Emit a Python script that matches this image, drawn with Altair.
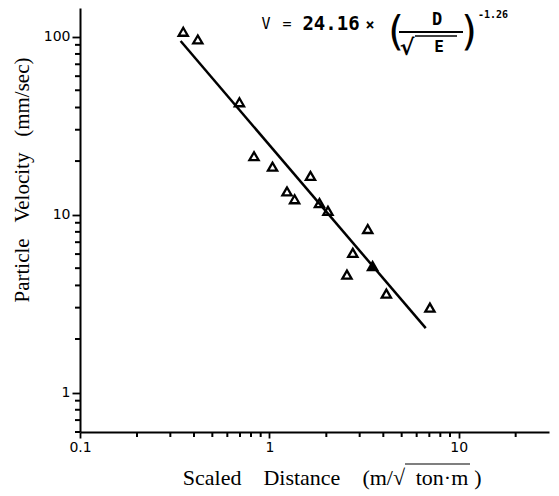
import altair as alt
import pandas as pd

# Measured data (scaled distance, particle velocity)
dist = [0.351, 0.419, 0.695, 0.83, 1.04, 1.65, 1.24, 1.36, 1.84, 2.04,
        3.31, 2.76, 3.51, 2.57, 4.15, 7.05]
vel = [106.6, 96.5, 42.8, 21.3, 18.6, 16.5, 13.5, 12.2, 11.6, 10.5,
       8.3, 6.1, 5.14, 4.6, 3.6, 3.0]
filled_flag = [False] * 12 + [True] + [False] * 3

# Regression line end points
line_x = [0.34, 6.7]
line_y = [94.6, 2.3]

x_major = [0.1, 1, 10]
y_major = [1, 10, 100]
x_minor = [0.2, 0.3, 0.4, 0.5, 0.6, 0.7, 0.8, 0.9, 2, 3, 4, 5, 6, 7, 8, 9, 20]
y_minor = [0.6, 0.7, 0.8, 0.9, 2, 3, 4, 5, 6, 7, 8, 9, 20, 30, 40, 50, 60, 70, 80, 90]

pts = pd.DataFrame({"d": dist, "v": vel, "f": filled_flag})
ln = pd.DataFrame({"d": line_x, "v": line_y})
xm = pd.DataFrame({"d": x_minor})
ym = pd.DataFrame({"v": y_minor})

xscale = alt.Scale(type="log", domain=[0.1, 30], nice=False)
yscale = alt.Scale(type="log", domain=[0.6, 145], nice=False)

common = dict(format="~g", title=None, grid=False, labelFont="DejaVu Sans",
              labelFontSize=14, labelColor="black", domainColor="black",
              domainWidth=2, tickColor="black", tickWidth=1.8,
              labelFlush=False, labelOverlap=False)
xaxis = alt.Axis(values=x_major, tickSize=6, labelPadding=2, **common)
yaxis = alt.Axis(values=y_major, tickSize=8, labelPadding=2, **common)

X = alt.X("d:Q", scale=xscale, axis=xaxis)
Y = alt.Y("v:Q", scale=yscale, axis=yaxis)

line = alt.Chart(ln).mark_line(color="black", strokeWidth=2.5).encode(x=X, y=Y)

base = alt.Chart(pts)
open_pts = base.transform_filter("!datum.f").mark_point(
    shape="triangle-up", filled=False, strokeWidth=2.3, size=85, color="black",
    opacity=1
).encode(x=X, y=Y)
fill_pts = base.transform_filter("datum.f").mark_point(
    shape="triangle-up", filled=True, size=85, color="black", opacity=1,
    stroke="black", strokeWidth=2.3
).encode(x=X, y=Y)

# minor ticks, positioned by the scales
xmin_t = alt.Chart(xm).mark_tick(color="black", thickness=2, size=5, opacity=1).encode(
    x=alt.X("d:Q", scale=xscale), y=alt.value(426.5))
ymin_t = alt.Chart(ym).mark_tick(color="black", thickness=2, size=5, opacity=1).encode(
    y=alt.Y("v:Q", scale=yscale), x=alt.value(-2.5))

one = alt.Data(values=[{"a": 1}])


def txt(s, x, y, size, font="DejaVu Sans Mono", weight="bold", angle=0, align="center"):
    return alt.Chart(one).mark_text(text=s, x=x, y=y, fontSize=size, font=font,
                                    fontWeight=weight, angle=angle, align=align,
                                    baseline="middle", color="black")


def hrule(x1, x2, y, w=1.8):
    return alt.Chart(one).mark_rule(color="black", strokeWidth=w).encode(
        x=alt.value(x1), x2=alt.value(x2), y=alt.value(y))


NB = "\u00a0"
ann = [
    txt("V", 186, 16, 15, weight="normal"),
    txt("=", 207, 16, 15, weight="normal"),
    txt("24.16", 251, 16, 19),
    txt("×", 290, 17, 15),
    txt("(", 316, 25, 40, font="DejaVu Sans", weight="normal"),
    txt(")", 389, 25, 40, font="DejaVu Sans", weight="normal"),
    hrule(319, 383, 24),
    hrule(335, 377, 28, 1.4),
    txt("D", 357, 12, 17),
    txt("√", 327, 40, 22, font="DejaVu Sans"),
    txt("E", 359, 39, 16),
    txt("-1.26", 413, 7, 10),
    # axis titles
    txt(f"Particle{NB*3}Velocity{NB*3}(mm/sec)", -57, 172, 21, font="Liberation Serif",
        weight="normal", angle=270),
    txt(f"Scaled{NB*4}Distance{NB*4}(m/√", 325, 470, 22, font="Liberation Serif",
        weight="normal", align="right"),
    txt("ton·m", 362, 470, 22, font="Liberation Serif", weight="normal"),
    txt(")", 398, 470, 22, font="Liberation Serif", weight="normal"),
    hrule(325, 390, 456, 1.2),
]

chart = alt.layer(line, open_pts, fill_pts, xmin_t, ymin_t, *ann).properties(
    width=469, height=424,
    autosize=alt.AutoSizeParams(type="none"),
    padding={"left": 72, "top": 0, "right": 2, "bottom": 58},
    background="white",
).configure_view(stroke=None)

chart.save("out.html", embed_options={"renderer": "svg", "actions": False})
